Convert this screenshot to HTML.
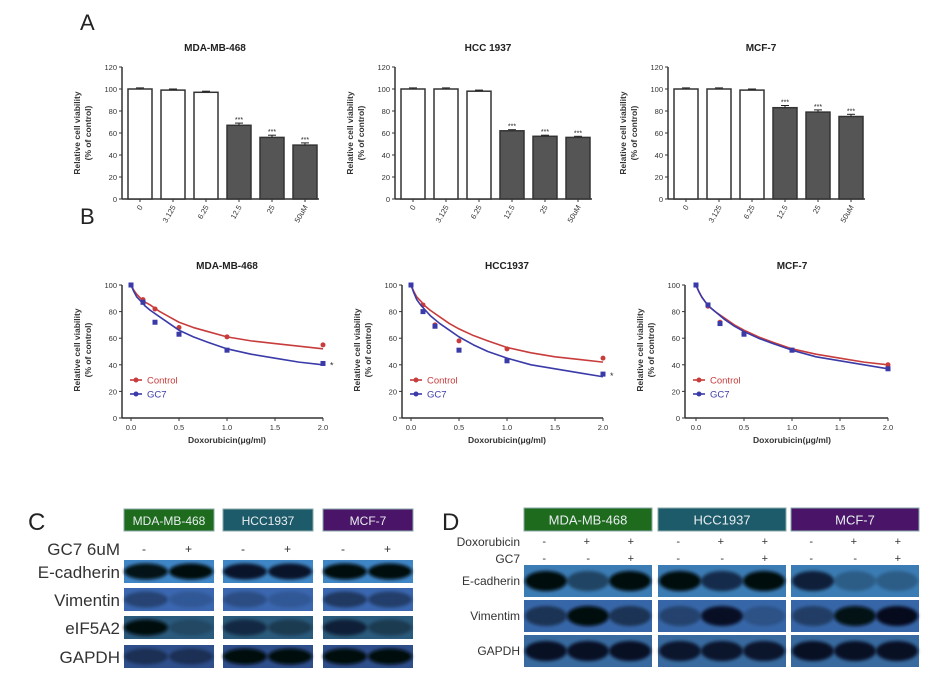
<!DOCTYPE html>
<html><head><meta charset="utf-8"><style>
body{margin:0;background:#fff;font-family:"Liberation Sans",Arial,sans-serif}
svg text{font-family:"Liberation Sans",Arial,sans-serif}
</style></head><body>
<svg id="fig" width="945" height="684" viewBox="0 0 945 684" xmlns="http://www.w3.org/2000/svg">
<defs>
<filter id="bl" x="-20%" y="-50%" width="140%" height="200%"><feGaussianBlur stdDeviation="1.6"/></filter>
</defs>
<text x="80" y="30" font-size="22" fill="#222">A</text>
<text x="80" y="224" font-size="22" fill="#222">B</text>
<text x="28" y="530" font-size="24" fill="#222">C</text>
<text x="442" y="530" font-size="24" fill="#222">D</text>
<g id="gA"></g><g id="gB"></g><g id="gC"></g><g id="gD"></g>
</svg>
<script>
// ---------- Panel A data ----------
const aTitles=["MDA-MB-468","HCC 1937","MCF-7"];
const aCategories=["0","3.125","6.25","12.5","25","50uM"];
const aValsMDA=[100,99,97,67,56,49];
const aValsHCC=[100,100,98,62,57,56];
const aValsMCF=[100,100,99,83,79,75];
const aErrMDA=[1,1,1,2,2,2];
const aErrHCC=[1,1,1,1,1,1];
const aErrMCF=[1,1,1,2,2,2];
const aYTicks=[0,20,40,60,80,100,120];
// ---------- Panel B data ----------
const bTitles=["MDA-MB-468","HCC1937","MCF-7"];
const bDoses=[0,0.125,0.25,0.5,1,2];
const bCtrlMDA=[100,89,82,68,61,55];
const bGC7MDA=[100,87,72,63,51,41];
const bCtrlHCC=[100,85,70,58,52,45];
const bGC7HCC=[100,80,69,51,43,33];
const bCtrlMCF=[100,84,72,64,51,40];
const bGC7MCF=[100,85,71,63,51,37];
const bFitX=[0,0.03,0.06,0.1,0.15,0.2,0.3,0.4,0.5,0.65,0.8,1,1.25,1.5,1.75,2];
const bFitCtrlMDA=[100,96,93,90,87,85,80,76,72,68,65,61,58,56,54,52];
const bFitGC7MDA=[100,95,91,88,84,81,76,71,66,61,57,52,48,45,42,40];
const bFitCtrlHCC=[100,95,91,88,84,81,76,71,67,62,58,53,49,46,44,42];
const bFitGC7HCC=[100,94,89,85,81,77,71,66,61,55,50,45,40,37,34,31];
const bFitCtrlMCF=[100,95,91,87,83,80,75,70,66,61,57,52,48,45,42,40];
const bFitGC7MCF=[100,95,91,87,83,80,74,69,65,60,56,51,46,43,40,37];
const bXTicks=[0,0.5,1,1.5,2];
const bYTicks=[0,20,40,60,80,100];

const NS="http://www.w3.org/2000/svg";
function mk(parent,tag,attrs,txt){const e=document.createElementNS(NS,tag);for(const k in attrs)e.setAttribute(k,attrs[k]);if(txt!==undefined)e.textContent=txt;parent.appendChild(e);return e;}

// ---------- Panel A ----------
const gA=document.getElementById('gA');
const aAxisX=[122,395,668];
const aVals=[aValsMDA,aValsHCC,aValsMCF];
const aErr=[aErrMDA,aErrHCC,aErrMCF];
for(let c=0;c<3;c++){
  const ax=aAxisX[c];
  const y=v=>199-v*1.1;
  const g=mk(gA,'g',{});
  
  
  const t=mk(g,'text',{x:ax+93,y:51,'font-size':10,'font-weight':'bold','text-anchor':'middle',fill:'#222'},aTitles[c]);
  
  
  const yt=mk(g,'text',{transform:`translate(${ax-42},133) rotate(-90)`,'font-size':8.5,'font-weight':'bold','text-anchor':'middle',fill:'#333'},'Relative cell viability');
  
  
  const yt2=mk(g,'text',{transform:`translate(${ax-31},133) rotate(-90)`,'font-size':8.5,'font-weight':'bold','text-anchor':'middle',fill:'#333'},'(% of control)');
  
  
  mk(g,'line',{x1:ax,y1:y(120),x2:ax,y2:y(0),stroke:'#333','stroke-width':1.5});
  mk(g,'line',{x1:ax,y1:y(0),x2:ax+197,y2:y(0),stroke:'#333','stroke-width':1.5});
  aYTicks.forEach(v=>{
    mk(g,'line',{x1:ax-3,y1:y(v),x2:ax,y2:y(v),stroke:'#333'});
    const tl=mk(g,'text',{x:ax-5,y:y(v)+3,'font-size':7.5,'text-anchor':'end',fill:'#333'},v);
    
    
  });
  aCategories.forEach((cat,i)=>{
    const x0=ax+6+i*33, v=aVals[c][i];
    const b=mk(g,'rect',{x:x0,y:y(v),width:24,height:y(0)-y(v),fill:i<3?'#fff':'#555',stroke:'#333','stroke-width':1.5});
    
    
    const e=aErr[c][i];
    mk(g,'line',{x1:x0+12,y1:y(v+e),x2:x0+12,y2:y(v),stroke:'#222'});
    mk(g,'line',{x1:x0+8,y1:y(v+e),x2:x0+16,y2:y(v+e),stroke:'#222'});
    mk(g,'line',{x1:x0+12,y1:y(0),x2:x0+12,y2:y(0)+3,stroke:'#333'});
    if(i>=3){const s=mk(g,'text',{x:x0+12,y:y(v+e)-1,'font-size':7,'text-anchor':'middle',fill:'#222'},'***');
      
      }
    const xl=mk(g,'text',{transform:`translate(${x0+15},${y(0)+8}) rotate(-60)`,'font-size':7.5,'text-anchor':'end',fill:'#333'},cat);
    
    
  });
}

// ---------- Panel B ----------
const gB=document.getElementById('gB');
const bAxisX=[122,402,685];
const bZeroX=[131,411,696];
const bCtrl=[bCtrlMDA,bCtrlHCC,bCtrlMCF];
const bGC7=[bGC7MDA,bGC7HCC,bGC7MCF];
const bFitC=[bFitCtrlMDA,bFitCtrlHCC,bFitCtrlMCF];
const bFitG=[bFitGC7MDA,bFitGC7HCC,bFitGC7MCF];
const RED='#c83c3c',BLUE='#3a3aa8';
for(let c=0;c<3;c++){
  const ax=bAxisX[c],zx=bZeroX[c];
  const x=v=>zx+v*96, y=v=>418-v*1.33;
  const g=mk(gB,'g',{});
  
  
  const t=mk(g,'text',{x:zx+96,y:269,'font-size':10,'font-weight':'bold','text-anchor':'middle',fill:'#222'},bTitles[c]);
  
  
  const yt=mk(g,'text',{transform:`translate(${ax-42},350) rotate(-90)`,'font-size':8.5,'font-weight':'bold','text-anchor':'middle',fill:'#333'},'Relative cell viability');
  
  
  const yt2=mk(g,'text',{transform:`translate(${ax-31},350) rotate(-90)`,'font-size':8.5,'font-weight':'bold','text-anchor':'middle',fill:'#333'},'(% of control)');
  
  
  mk(g,'line',{x1:ax,y1:y(100),x2:ax,y2:y(0),stroke:'#333','stroke-width':1.5});
  mk(g,'line',{x1:ax,y1:y(0),x2:x(2),y2:y(0),stroke:'#333','stroke-width':1.5});
  bYTicks.forEach(v=>{
    mk(g,'line',{x1:ax-3,y1:y(v),x2:ax,y2:y(v),stroke:'#333'});
    const tl=mk(g,'text',{x:ax-5,y:y(v)+3,'font-size':7.5,'text-anchor':'end',fill:'#333'},v);
    
    
  });
  bXTicks.forEach(v=>{
    mk(g,'line',{x1:x(v),y1:y(0),x2:x(v),y2:y(0)+3,stroke:'#333'});
    const tl=mk(g,'text',{x:x(v),y:y(0)+12,'font-size':7.5,'text-anchor':'middle',fill:'#333'},v.toFixed(1));
    
    
  });
  const xt=mk(g,'text',{x:x(1),y:y(0)+25,'font-size':8.5,'font-weight':'bold','text-anchor':'middle',fill:'#333'},'Doxorubicin(μg/ml)');
  
  
  [[bFitC[c],bCtrl[c],RED,'control'],[bFitG[c],bGC7[c],BLUE,'gc7']].forEach(([fit,pts,col,nm])=>{
    const d=bFitX.map((v,i)=>(i?'L':'M')+x(v)+','+y(fit[i])).join(' ');
    const p=mk(g,'path',{d:d,fill:'none',stroke:col,'stroke-width':1.6,'stroke-linejoin':'round'});
    
    
    bDoses.forEach((dv,i)=>{
      const m=nm==='control'?mk(g,'circle',{cx:x(dv),cy:y(pts[i]),r:2.5,fill:col}):mk(g,'rect',{x:x(dv)-2.5,y:y(pts[i])-2.5,width:5,height:5,fill:col});
      
      
    });
  });
  if(c<2){const s=mk(g,'text',{x:x(2)+7,y:y(bGC7[c][5])+5,'font-size':9,fill:'#333'},'*');
    
    }
  [['Control',RED,380,'legend-control'],['GC7',BLUE,394,'legend-gc7']].forEach(([lb,col,ly,nm])=>{
    mk(g,'line',{x1:ax+8,y1:ly,x2:ax+20,y2:ly,stroke:col,'stroke-width':1.6});
    mk(g,'circle',{cx:ax+14,cy:ly,r:2.5,fill:col});
    const lt=mk(g,'text',{x:ax+25,y:ly+3.5,'font-size':9.5,fill:col},lb);
    
    
  });
}

// ---------- Blots ----------
function band(g,cx,cy,rx,ry,op){mk(g,'ellipse',{cx:cx,cy:cy,rx:rx,ry:ry,fill:'#05070c','fill-opacity':op,filter:'url(#bl)'});}
function header(g,x,y,w,h,col,txt,fs){
  const r=mk(g,'rect',{x:x,y:y,width:w,height:h,fill:col,stroke:'#8aa',"stroke-width":1});
  
  
  const t=mk(g,'text',{x:x+w/2,y:y+h/2+5,'font-size':fs,'text-anchor':'middle',fill:'#e8eef0'},txt);
  
  
}
function label(g,x,y,txt,fs,nm){const t=mk(g,'text',{x:x,y:y,'font-size':fs,'text-anchor':'end',fill:'#333'},txt);
  
  }
const COLS=['#1e6b1e','#1d5a6a','#4a1468'];
const NAMES=['MDA-MB-468','HCC1937','MCF-7'];
// Panel C
const gC=document.getElementById('gC');
const cX=[124,223,323], cW=90;
const cRows=[['E-cadherin',560,23,'#3f86c6'],['Vimentin',588,23,'#3a67b0'],['eIF5A2',616,23,'#2a5a7c'],['GAPDH',645,23,'#2e4f8c']];
const cInt=[[[0.95,1],[0.85,0.85],[1,1]],[[0.35,0.15],[0.25,0.15],[0.45,0.4]],[[1,0.2],[0.55,0.35],[0.65,0.35]],[[0.4,0.4],[1,1],[1,1]]];
label(gC,120,555,'GC7 6uM',17,'treatment-label');
for(let i=0;i<3;i++){
  header(gC,cX[i],509,cW,22,COLS[i],NAMES[i],12);
  label(gC,cX[i]+22,553,'-',12,'sign-minus');label(gC,cX[i]+68,553,'+',12,'sign-plus');
}
cRows.forEach((r,ri)=>{
  label(gC,120,r[1]+18,r[0],17,'row-label-'+r[0].toLowerCase());
  for(let i=0;i<3;i++){
    const gg=mk(gC,'g',{});
    
    
    mk(gg,'rect',{x:cX[i],y:r[1],width:cW,height:r[2],fill:r[3]});
    band(gg,cX[i]+22,r[1]+r[2]/2,22,8,cInt[ri][i][0]);
    band(gg,cX[i]+67,r[1]+r[2]/2,22,8,cInt[ri][i][1]);
  }
});
// Panel D
const gD=document.getElementById('gD');
const dX=[524,658,791], dW=128;
const dRows=[['E-cadherin',565,32,'#3b7cb4'],['Vimentim',600,32,'#3766a8'],['GAPDH',635,32,'#386aa0']];
const dInt=[[[1,0.45,1],[1,0.65,1],[0.75,0.25,0.25]],[[0.5,1,0.5],[0.35,0.85,0.2],[0.4,0.95,0.9]],[[0.85,0.85,0.85],[0.8,0.8,0.8],[0.85,0.85,0.85]]];
label(gD,520,546,'Doxorubicin',12,'doxorubicin-label');
label(gD,520,563,'GC7',12,'gc7-label');
const dDox=['-','+','+'], dGC7=['-','-','+'];
for(let i=0;i<3;i++){
  header(gD,dX[i],508,dW,23,COLS[i],NAMES[i],13);
  for(let k=0;k<3;k++){
    label(gD,dX[i]+22+k*44,545,dDox[k],11,'doxorubicin-sign');
    label(gD,dX[i]+22+k*44,562,dGC7[k],11,'gc7-sign');
  }
}
dRows.forEach((r,ri)=>{
  label(gD,520,r[1]+20,r[0],12,'row-label-'+r[0].toLowerCase());
  for(let i=0;i<3;i++){
    const gg=mk(gD,'g',{});
    
    
    mk(gg,'rect',{x:dX[i],y:r[1],width:dW,height:r[2],fill:r[3]});
    for(let k=0;k<3;k++) band(gg,dX[i]+22+k*42,r[1]+r[2]/2,21,10,dInt[ri][i][k]);
  }
});
</script>
</body></html>
